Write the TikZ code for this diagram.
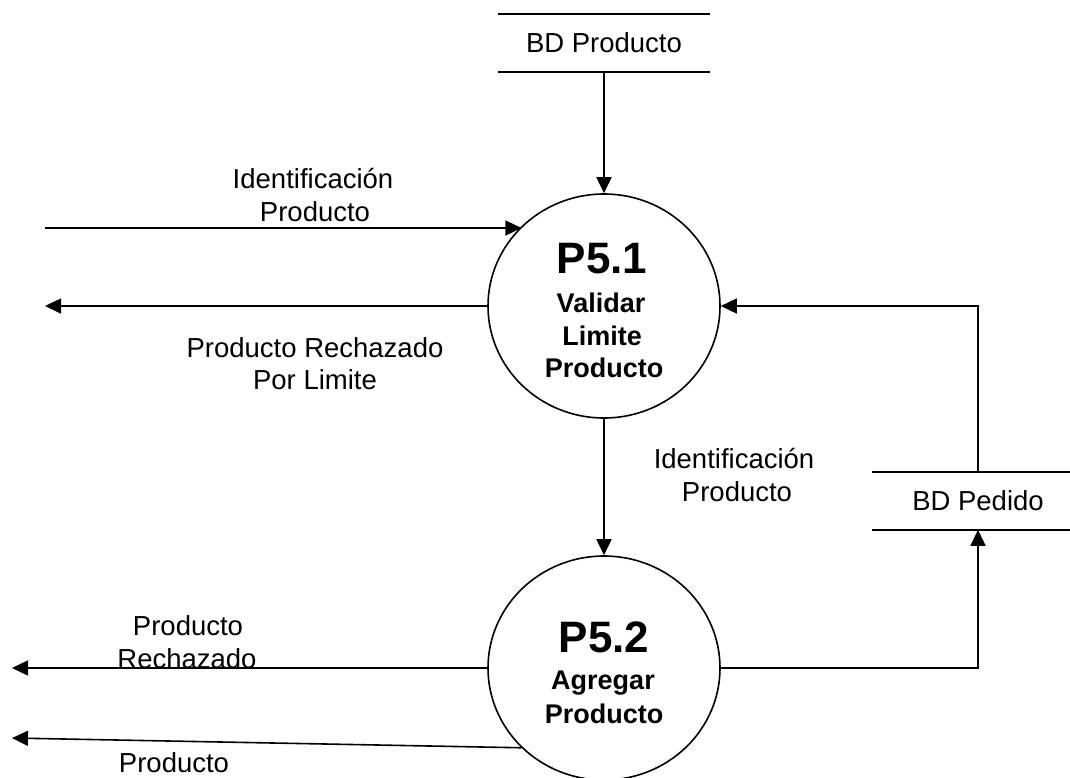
\documentclass[tikz,border=0pt]{standalone}
\usepackage{fontspec}
\setmainfont{Liberation Sans}
\usetikzlibrary{arrows.meta,shapes.geometric}

\begin{document}
\begin{tikzpicture}[x=1pt,y=-1pt,
  line width=1.6pt,
  flow/.style={-{Triangle[length=16pt,width=15pt]}},
  proc/.style={draw,ellipse,minimum width=232pt,minimum height=224pt,inner sep=0pt},
  store/.style={minimum width=210pt,minimum height=56pt,inner sep=0pt,
    font=\fontsize{27.5}{33}\selectfont},
  lbl/.style={anchor=base,inner sep=0pt,font=\fontsize{27.5}{33}\selectfont},
  pid/.style={anchor=base,inner sep=0pt,font=\fontsize{44}{50}\selectfont\bfseries},
  pname/.style={anchor=base,inner sep=0pt,font=\fontsize{27}{33}\selectfont\bfseries}]
\useasboundingbox (0,0) rectangle (1070,777);

% data stores
\node[store] (bdp) at (604,43) {BD Producto};
\draw (bdp.north west) -- (bdp.north east) (bdp.south west) -- (bdp.south east);
\node[store] (bdped) at (978,501) {BD Pedido};
\draw (bdped.north west) -- (bdped.north east) (bdped.south west) -- (bdped.south east);

% processes
\node[proc] (p1) at (604,306) {};
\node[pid]   (p1id) at (602,273) {P5.1};
\node[pname] (p1n1) at (601,312) {Validar};
\node[pname] (p1n2) at (602,345) {Limite};
\node[pname] (p1n3) at (604,377) {Producto};

\node[proc] (p2) at (604,668) {};
\node[pid]   (p2id) at (604,652) {P5.2};
\node[pname] (p2n1) at (603,689) {Agregar};
\node[pname] (p2n2) at (604,723) {Producto};

% free ends of the external flows
\coordinate (inA)  at (45,228);
\coordinate (outA) at (45,306);
\coordinate (outB) at (12,668);
\coordinate (outC) at (12,738);

% flows
\draw[flow] (bdp.south) -- (p1.north);
\draw[flow] (inA) -- (inA -| p1.136.8);
\draw[flow] (p1.west) -- (outA);
\draw[flow] (p1.south) -- (p2.north);
\draw[flow] (bdped.north) |- (p1.east);
\draw[flow] (p2.east) -| (bdped.south);
\draw[flow] (p2.west) -- (outB);
\draw[flow] (p2.224) -- (outC);

% flow labels
\node[lbl] (in1a) at (313,188) {Identificación};
\node[lbl] (in1b) at (315,221) {Producto};
\node[lbl] (rj1a) at (315,357) {Producto Rechazado};
\node[lbl] (rj1b) at (315,389) {Por Limite};
\node[lbl] (mida) at (734,468) {Identificación};
\node[lbl] (midb) at (737,501) {Producto};
\node[lbl] (rj2a) at (188,635) {Producto};
\node[lbl] (rj2b) at (187,668) {Rechazado};
\node[lbl] (outl) at (174,772) {Producto};
\end{tikzpicture}
\end{document}
